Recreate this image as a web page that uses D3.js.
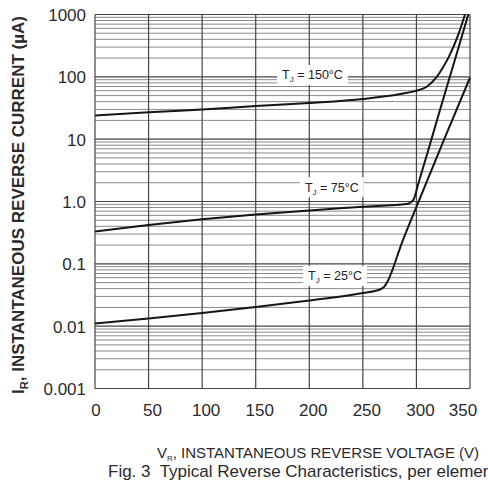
<!DOCTYPE html>
<html>
<head>
<meta charset="utf-8">
<script src="https://cdn.jsdelivr.net/npm/d3@7"></script>
<style>
  html, body { margin: 0; padding: 0; background: #fff; overflow: hidden; }
  svg { display: block; font-family: "Liberation Sans", Arial, sans-serif; }
</style>
</head>
<body>
<div id="chart"></div>
<script>
// reverse voltage (V) ticks and reverse current (uA) decade ticks
const voltageTicks = [0, 50, 100, 150, 200, 250, 300, 350];
const currentTicks = [0.001, 0.01, 0.1, 1, 10, 100, 1000];
const currentTickLabels = ['0.001', '0.01', '0.1', '1.0', '10', '100', '1000'];

// [V, uA]
const curve150 = [
  [0, 24], [50, 27], [100, 30], [150, 34], [200, 38], [250, 44], [285, 53],
  [300, 60], [310, 70], [318, 95], [324, 135], [330, 205], [339, 470], [345.3, 1000]
];
const curve75 = [
  [0, 0.33], [50, 0.42], [100, 0.52], [150, 0.62], [200, 0.72], [250, 0.82],
  [292, 0.92], [297, 1.05], [302, 2.0], [310, 5.8], [325, 44], [336, 190], [348.4, 1000]
];
const curve25 = [
  [0, 0.011], [50, 0.0133], [100, 0.0163], [150, 0.0203], [200, 0.0258], [250, 0.034],
  [266, 0.0387], [270, 0.043], [273, 0.052], [277, 0.075], [285, 0.186],
  [300, 0.82], [325, 9.1], [350, 97]
];
const seriesTemps = ['150°C', '75°C', '25°C'];

(function () {
  const W = 488, H = 485;
  const margin = { top: 14.5, right: 18, bottom: 96.5, left: 95 };

  const svg = d3.select('#chart')
    .append('svg')
    .attr('width', W)
    .attr('height', H)
    .attr('viewBox', `0 0 ${W} ${H}`);

  const x = d3.scaleLinear()
    .domain([0, 350])
    .range([margin.left, W - margin.right]);

  const y = d3.scaleLog()
    .domain([0.001, 1000])
    .range([H - margin.bottom, margin.top]);

  const grid = svg.append('g').attr('class', 'grid');

  // minor log lines (2..9 per decade)
  const minor = y.ticks().filter(v => !currentTicks.some(t => Math.abs(v / t - 1) < 1e-6));
  grid.selectAll('line.minor')
    .data(minor)
    .enter()
    .append('line')
    .attr('class', 'minor')
    .attr('x1', x(0))
    .attr('x2', x(350))
    .attr('y1', d => y(d))
    .attr('y2', d => y(d))
    .attr('stroke', '#8a8a8a')
    .attr('stroke-width', 1);

  grid.selectAll('line.major')
    .data(currentTicks)
    .enter()
    .append('line')
    .attr('class', 'major')
    .attr('x1', x(0))
    .attr('x2', x(350))
    .attr('y1', d => y(d))
    .attr('y2', d => y(d))
    .attr('stroke', '#444')
    .attr('stroke-width', 1.2);

  grid.selectAll('line.vert')
    .data(voltageTicks)
    .enter()
    .append('line')
    .attr('class', 'vert')
    .attr('x1', d => x(d))
    .attr('x2', d => x(d))
    .attr('y1', y(1000))
    .attr('y2', y(0.001))
    .attr('stroke', '#444')
    .attr('stroke-width', 1.2);

  // curves
  const line = d3.line()
    .x(d => x(d[0]))
    .y(d => y(d[1]))
    .curve(d3.curveMonotoneX);

  svg.append('g')
    .attr('class', 'curves')
    .selectAll('path')
    .data([curve150, curve75, curve25])
    .enter()
    .append('path')
    .attr('d', line)
    .attr('fill', 'none')
    .attr('stroke', '#151515')
    .attr('stroke-width', 2);

  // temperature labels (data-space anchors)
  const labelAnchors = [[203, 107], [221, 1.7], [224, 0.064]];
  const labels = svg.append('g').attr('class', 'labels');
  seriesTemps.forEach((t, i) => {
    const [lv, li] = labelAnchors[i];
    const g = labels.append('g')
      .attr('transform', `translate(${x(lv)},${y(li)})`);
    const txt = g.append('text')
      .attr('text-anchor', 'middle')
      .attr('dy', '0.35em')
      .attr('font-size', 12.5)
      .attr('fill', '#222');
    txt.append('tspan').text('T');
    txt.append('tspan').attr('font-size', 8).attr('dy', 3).text('J');
    txt.append('tspan').attr('dy', -3).text(' = ' + t);
    const bb = txt.node().getBBox();
    g.insert('rect', 'text')
      .attr('x', bb.x - 5)
      .attr('y', -10)
      .attr('width', bb.width + 10)
      .attr('height', 20)
      .attr('fill', '#fff');
  });

  // y tick labels
  svg.append('g')
    .attr('class', 'y-labels')
    .selectAll('text')
    .data(currentTicks)
    .enter()
    .append('text')
    .attr('x', margin.left - 9)
    .attr('y', d => y(d))
    .attr('dy', '0.38em')
    .attr('text-anchor', 'end')
    .attr('font-size', 17)
    .attr('fill', '#2a2a2a')
    .text((d, i) => currentTickLabels[i]);

  // x tick labels
  svg.append('g')
    .attr('class', 'x-labels')
    .selectAll('text')
    .data(voltageTicks)
    .enter()
    .append('text')
    .attr('x', d => x(d) + (d === 350 ? -7 : (d === 0 ? 1 : 4)))
    .attr('y', H - margin.bottom + 27)
    .attr('text-anchor', 'middle')
    .attr('font-size', 17)
    .attr('fill', '#2a2a2a')
    .text(d => d);

  // axis titles
  const yTitle = svg.append('text')
    .attr('transform', 'translate(24,205) rotate(-90)')
    .attr('text-anchor', 'middle')
    .attr('font-size', 17)
    .attr('font-weight', 700)
    .attr('fill', '#2a2a2a');
  yTitle.append('tspan').text('I');
  yTitle.append('tspan').attr('font-size', 11).attr('dy', 4).text('R');
  yTitle.append('tspan').attr('dy', -4).text(', INSTANTANEOUS REVERSE CURRENT (µA)');

  const xTitle = svg.append('text')
    .attr('x', 318)
    .attr('y', 458)
    .attr('text-anchor', 'middle')
    .attr('font-size', 15)
    .attr('fill', '#2a2a2a');
  xTitle.append('tspan').text('V');
  xTitle.append('tspan').attr('font-size', 8).attr('dy', 3).text('R');
  xTitle.append('tspan').attr('dy', -3).text(', INSTANTANEOUS REVERSE VOLTAGE (V)');

  svg.append('text')
    .attr('x', 108)
    .attr('y', 477)
    .attr('font-size', 17)
    .attr('fill', '#2a2a2a')
    .attr('xml:space', 'preserve')
    .text('Fig. 3  Typical Reverse Characteristics, per element');
})();
</script>
</body>
</html>
